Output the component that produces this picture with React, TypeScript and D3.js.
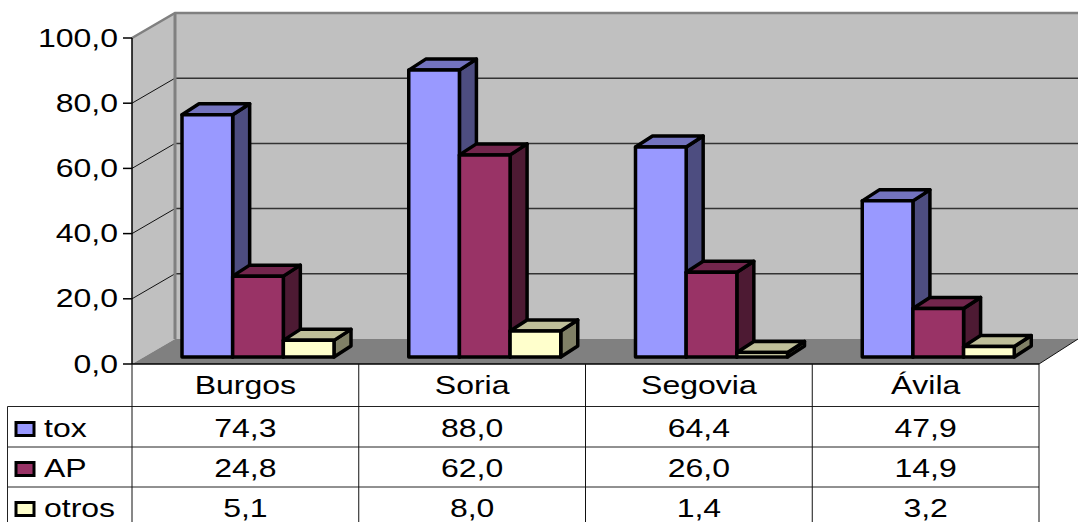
import React from "react";
import * as d3 from "d3";

const categories = ["Burgos", "Soria", "Segovia", "Ávila"];
const seriesNames = ["tox", "AP", "otros"];
const tox = [74.3, 88.0, 64.4, 47.9];
const ap = [24.8, 62.0, 26.0, 14.9];
const otros = [5.1, 8.0, 1.4, 3.2];
const seriesValues = [tox, ap, otros];
const seriesColors = ["#9999FF", "#993366", "#FFFFCC"];
const yTicks = [0, 20, 40, 60, 80, 100];

const fmt = (v: number) => v.toFixed(1).replace(".", ",");
const W = 1078, H = 522;
const left = 132, right = 1039, floorY = 364, topY = 38;
const dx = 43, dy = -25;
const barDx = 17, barDy = -11;
const barLift = 7;
const stretch = 1.28;
const fs = 25;

const y = d3.scaleLinear().domain([0, 100]).range([floorY, topY]);
const xCat = d3.scaleBand<string>().domain(categories).range([left, right]);
const xSer = d3.scaleBand<string>().domain(seriesNames).range([50, 202]);
const rowLines = [406.5, 447, 487];
const rowBase = [436.5, 477, 516.5];
const keyTops = [422.5, 462.5, 502.5];

function T({ x, y, anchor = "middle", children }: any) {
  return (
    <text transform={`translate(${x},${y}) scale(${stretch},1)`} textAnchor={anchor}
      fontFamily="Liberation Sans, Arial, sans-serif" fontSize={fs} fill="#000">{children}</text>
  );
}
const pts = (a: number[][]) => a.map(p => p.join(",")).join(" ");

function shade(c: string, k: number) {
  const r = d3.rgb(c);
  return d3.rgb(r.r * k, r.g * k, r.b * k).formatHex();
}

export default function App() {
  return (
    <svg width={W} height={H} style={{ position: "fixed", left: 0, top: 0, display: "block", background: "#fff" }}>
      {/* walls */}
      <polygon points={pts([[left, topY], [left + dx, topY + dy], [left + dx, floorY + dy], [left, floorY]])} fill="#C0C0C0" />
      <rect x={left + dx} y={topY + dy} width={W - left - dx} height={floorY - topY} fill="#C0C0C0" />
      <polygon points={pts([[left, floorY], [left + dx, floorY + dy], [W, floorY + dy], [right, floorY]])} fill="#808080" />
      {/* gridlines */}
      {yTicks.slice(1, -1).map(t => (
        <g key={t}>
          <line x1={left} y1={y(t)} x2={left + dx} y2={y(t) + dy} stroke="#111" strokeWidth={1} />
          <line x1={left + dx} y1={y(t) + dy} x2={W} y2={y(t) + dy} stroke="#333" strokeWidth={1.5} />
        </g>
      ))}
      <polyline points={pts([[left, topY], [left + dx, topY + dy], [W, topY + dy]])} fill="none" stroke="#808080" strokeWidth={2.5} />
      <line x1={left + dx} y1={topY + dy} x2={left + dx} y2={floorY + dy} stroke="#808080" strokeWidth={3} />
      <line x1={right} y1={floorY} x2={W} y2={floorY + dy} stroke="#111" strokeWidth={1} />
      {/* bars */}
      {categories.map((c, i) => seriesNames.map((s, j) => {
        const v = seriesValues[j][i];
        const x0 = xCat(c)! + xSer(s)!;
        const x1 = x0 + xSer.bandwidth();
        const yb = floorY - barLift;
        const yt = y(v) - barLift;
        const col = seriesColors[j];
        return (
          <g key={c + s} stroke="#000" strokeWidth={3.5} strokeLinejoin="round">
            <polygon points={pts([[x1, yt], [x1 + barDx, yt + barDy], [x1 + barDx, yb + barDy], [x1, yb]])} fill={shade(col, 0.5)} />
            <polygon points={pts([[x0, yt], [x0 + barDx, yt + barDy], [x1 + barDx, yt + barDy], [x1, yt]])} fill={shade(col, 0.75)} />
            <rect x={x0} y={yt} width={x1 - x0} height={yb - yt} fill={col} />
          </g>
        );
      }))}
      {/* y axis */}
      <line x1={left} y1={topY} x2={left} y2={floorY} stroke="#000" strokeWidth={1.5} />
      {yTicks.map(t => (
        <g key={t}>
          <line x1={left - 9} y1={y(t)} x2={left} y2={y(t)} stroke="#000" strokeWidth={1.5} />
          <T x={118} y={y(t) + 8.5} anchor="end">{fmt(t)}</T>
        </g>
      ))}
      {/* data table */}
      <line x1={left} y1={floorY} x2={right} y2={floorY} stroke="#000" strokeWidth={1.5} />
      {rowLines.map(r => <line key={r} x1={7.5} y1={r} x2={right} y2={r} stroke="#222" strokeWidth={1} />)}
      <line x1={7.5} y1={rowLines[0]} x2={7.5} y2={H} stroke="#222" strokeWidth={1} />
      {[...categories.map(c => xCat(c)!), right].map(v => (
        <line key={v} x1={v} y1={floorY} x2={v} y2={H} stroke="#111" strokeWidth={1} />
      ))}
      {categories.map((c, i) => (
        <g key={c}>
          <T x={xCat(c)! + xCat.bandwidth() / 2} y={393.5}>{c}</T>
          {seriesValues.map((vals, j) => (
            <T key={j} x={xCat(c)! + xCat.bandwidth() / 2} y={rowBase[j]}>{fmt(vals[i])}</T>
          ))}
        </g>
      ))}
      {seriesNames.map((s, j) => (
        <g key={s}>
          <rect x={16} y={keyTops[j]} width={18} height={13} fill={seriesColors[j]} stroke="#000" strokeWidth={3} />
          <T x={44} y={rowBase[j]} anchor="start">{s}</T>
        </g>
      ))}
    </svg>
  );
}
